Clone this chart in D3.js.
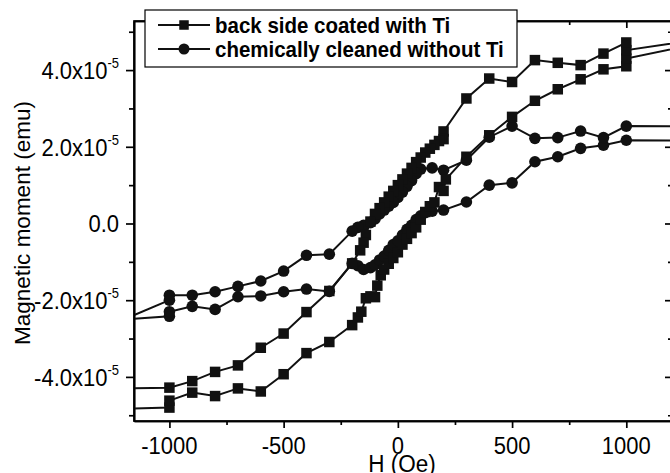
<!DOCTYPE html>
<meta charset="utf-8">
<style>
body { margin: 0; background: #fff; }
svg { display: block; font-family: "Liberation Sans", Arial, sans-serif; }
.axis path, .axis line { stroke: #000; stroke-width: 1.7px; fill: none; }
.axis text { display: none; }
.ylab, .xlab { font-size: 22px; fill: #000; }
.title { font-size: 22.5px; fill: #000; }
.legend text { font-size: 20.5px; font-weight: bold; fill: #000; }
.series path { fill: none; stroke: #111; stroke-width: 2px; }
.series .mark { fill: #111; }
</style>
<body>
<script src="https://cdn.jsdelivr.net/npm/d3@7"></script>
<script>
// H in Oe, moment in units of 1e-5 emu; loop order as measured
// (points outside the axes only carry the lines to the frame edge)
var squareField = [-1600, -1000, -1000, -900, -800, -700, -600, -500, -400, -300, -200, -175, -160, -140, -120, -100, -90, -75, -60, -40, -20, 0, 20, 40, 60, 80, 100, 120, 140, 160, 180, 200, 210, 300, 400, 500, 600, 700, 800, 900, 1000, 1000, 1600,
  1000, 1000, 900, 800, 700, 600, 500, 400, 300, 200, 200, 180, 160, 140, 120, 100, 80, 60, 40, 20, 0, -20, -40, -60, -80, -100, -120, -140, -150, -165, -200, -300, -400, -500, -600, -700, -800, -900, -1000, -1600];
var squareMoment = [-4.90, -4.80, -4.62, -4.41, -4.50, -4.30, -4.38, -3.93, -3.38, -3.09, -2.65, -2.45, -2.30, -1.95, -1.90, -1.92, -1.62, -1.35, -1.20, -1.05, -0.90, -0.75, -0.55, -0.40, -0.25, -0.10, 0.10, 0.30, 0.45, 0.55, 0.95, 0.85, 1.15, 1.74, 2.30, 2.78, 3.20, 3.50, 3.76, 4.02, 4.10, 4.30, 5.05,
  4.52, 4.72, 4.43, 4.13, 4.19, 4.26, 3.69, 3.78, 3.26, 2.40, 2.20, 2.15, 2.05, 1.95, 1.85, 1.72, 1.60, 1.45, 1.30, 1.15, 1.00, 0.85, 0.70, 0.55, 0.40, 0.25, 0.05, -0.30, -0.50, -0.70, -1.04, -1.76, -2.31, -2.87, -3.24, -3.70, -3.87, -4.11, -4.28, -4.33];

var circleField = [-1200, -1000, -1000, -900, -800, -700, -600, -500, -400, -300, -200, -175, -150, -120, -100, -80, -60, -40, -20, 0, 20, 40, 60, 80, 100, 120, 150, 200, 300, 400, 500, 600, 700, 800, 900, 1000, 1600, 1600,
  1000, 900, 800, 700, 600, 500, 400, 300, 200, 150, 100, 80, 60, 40, 20, 0, -20, -40, -60, -80, -100, -120, -150, -175, -200, -300, -400, -500, -600, -700, -800, -900, -1000, -1000, -1200];
var circleMoment = [-2.50, -2.42, -2.30, -2.16, -2.24, -1.91, -1.89, -1.78, -1.71, -1.77, -1.04, -1.10, -1.20, -1.15, -1.08, -0.95, -0.85, -0.70, -0.55, -0.45, -0.30, -0.15, -0.05, 0.10, 0.20, 0.28, 0.32, 0.35, 0.56, 1.00, 1.06, 1.61, 1.74, 1.96, 2.04, 2.17, 2.15, 2.53,
  2.54, 2.24, 2.41, 2.24, 2.22, 2.54, 2.25, 1.65, 1.39, 1.45, 1.42, 1.30, 1.12, 0.97, 0.82, 0.68, 0.55, 0.45, 0.35, 0.25, 0.12, 0.02, -0.05, -0.10, -0.20, -0.80, -0.83, -1.24, -1.50, -1.64, -1.78, -1.87, -1.87, -2.00, -2.50];

var seriesNames = ["back side coated with Ti", "chemically cleaned without Ti"];
var xMajor = [-1000, -500, 0, 500, 1000];
var xMinor = [-750, -250, 250, 750];
var yMajor = [-4, -2, 0, 2, 4];
var yMinor = [-5, -3, -1, 1, 3, 5];

var W = 670, H = 473;
var plotL = 134, plotR = 672, plotT = 21, plotB = 421;
var stretch = " scale(1,1.1)";   // the original lettering is a bit taller than Arial

var svg = d3.select("body").append("svg")
  .attr("width", W)
  .attr("height", H);

var x = d3.scaleLinear().domain([-1155, 1200]).range([plotL, plotR]);
var y = d3.scaleLinear().domain([-5.15, 5.28]).range([plotB, plotT]);

svg.append("clipPath").attr("id", "plot")
  .append("rect")
    .attr("x", plotL).attr("y", plotT)
    .attr("width", plotR - plotL).attr("height", plotB - plotT);

// axes: bottom/left ticks outward, top/right inward
function addAxis(axis, tx, ty) {
  svg.append("g").attr("class", "axis")
    .attr("transform", "translate(" + tx + "," + ty + ")")
    .call(axis);
}
addAxis(d3.axisBottom(x).tickValues(xMajor).tickSizeInner(7).tickSizeOuter(0), 0, plotB);
addAxis(d3.axisBottom(x).tickValues(xMinor).tickSizeInner(4).tickSizeOuter(0), 0, plotB);
addAxis(d3.axisTop(x).tickValues(xMajor).tickSizeInner(-7).tickSizeOuter(0), 0, plotT);
addAxis(d3.axisTop(x).tickValues(xMinor).tickSizeInner(-4).tickSizeOuter(0), 0, plotT);
addAxis(d3.axisLeft(y).tickValues(yMajor).tickSizeInner(8).tickSizeOuter(0), plotL, 0);
addAxis(d3.axisLeft(y).tickValues(yMinor).tickSizeInner(5).tickSizeOuter(0), plotL, 0);
addAxis(d3.axisRight(y).tickValues(yMajor).tickSizeInner(-7).tickSizeOuter(0), plotR, 0);
addAxis(d3.axisRight(y).tickValues(yMinor).tickSizeInner(-4).tickSizeOuter(0), plotR, 0);

svg.selectAll(".xlab")
  .data(xMajor)
  .enter().append("text")
    .attr("class", "xlab")
    .attr("transform", function(d) { return "translate(" + x(d) + ",454)" + stretch; })
    .attr("text-anchor", "middle")
    .text(function(d) { return d; });

var ylab = svg.selectAll(".ylab")
  .data(yMajor)
  .enter().append("text")
    .attr("class", "ylab")
    .attr("transform", function(d) { return "translate(119," + (y(d) + 9) + ")" + stretch; })
    .attr("text-anchor", "end");
ylab.append("tspan")
  .text(function(d) { return d === 0 ? "0.0" : d.toFixed(1) + "x10"; });
ylab.filter(function(d) { return d !== 0; })
  .append("tspan")
    .attr("dy", -10)
    .style("font-size", "13px")
    .text("-5");

svg.append("text")
  .attr("class", "title")
  .attr("transform", "translate(402,472)" + stretch)
  .attr("text-anchor", "middle")
  .text("H (Oe)");

svg.append("text")
  .attr("class", "title")
  .attr("transform", "translate(30,223) rotate(-90)")
  .attr("text-anchor", "middle")
  .text("Magnetic moment (emu)");

// data
var line = d3.line()
  .x(function(d) { return x(d[0]); })
  .y(function(d) { return y(d[1]); });

var squares = d3.zip(squareField, squareMoment);
var circles = d3.zip(circleField, circleMoment);

var plot = svg.append("g").attr("clip-path", "url(#plot)");

var sq = 10.5, cr = 5.8;

function drawSeries(data, shape) {
  var g = plot.append("g").attr("class", "series");
  g.append("path").attr("d", line(data));
  if (shape === "square") {
    g.selectAll("rect").data(data).enter().append("rect")
      .attr("class", "mark")
      .attr("x", function(d) { return x(d[0]) - sq / 2; })
      .attr("y", function(d) { return y(d[1]) - sq / 2; })
      .attr("width", sq).attr("height", sq);
  } else {
    g.selectAll("circle").data(data).enter().append("circle")
      .attr("class", "mark")
      .attr("cx", function(d) { return x(d[0]); })
      .attr("cy", function(d) { return y(d[1]); })
      .attr("r", cr);
  }
}
drawSeries(circles, "circle");
drawSeries(squares, "square");

svg.append("rect")
  .attr("x", plotL).attr("y", plotT)
  .attr("width", plotR - plotL).attr("height", plotB - plotT)
  .attr("fill", "none").attr("stroke", "#000").attr("stroke-width", 1.7);

// legend
var legend = svg.append("g").attr("class", "legend");
legend.append("rect")
  .attr("x", 145).attr("y", 10)
  .attr("width", 372).attr("height", 57)
  .attr("fill", "#fff").attr("stroke", "#000").attr("stroke-width", 1.2);

var rows = legend.selectAll(".row")
  .data(seriesNames)
  .enter().append("g")
    .attr("class", "row")
    .attr("transform", function(d, i) { return "translate(0," + (25 + i * 24) + ")"; });

rows.append("line")
  .attr("x1", 158).attr("x2", 210)
  .attr("stroke", "#111").attr("stroke-width", 2);
rows.filter(function(d, i) { return i === 0; }).append("rect")
  .attr("x", 184 - 4.75).attr("y", -4.75).attr("width", 9.5).attr("height", 9.5).attr("fill", "#111");
rows.filter(function(d, i) { return i === 1; }).append("circle")
  .attr("cx", 184).attr("r", 5.5).attr("fill", "#111");
rows.append("text")
  .attr("transform", "translate(215,8)" + stretch)
  .text(function(d) { return d; });
</script>
</body>
